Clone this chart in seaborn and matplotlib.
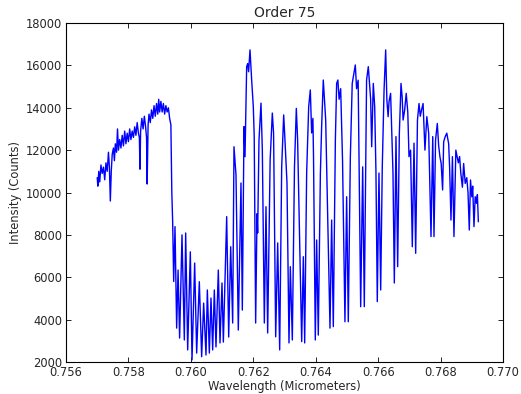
"""
Order 75 spectrum plot (O2 A-band region).
Vertices read off the reference figure.
"""

import matplotlib
matplotlib.use('Agg')
import matplotlib.pyplot as plt
import numpy as np
import pandas as pd
import seaborn as sns

# ── Data: continuum before the band head ─────────────────────────────────────
wl_continuum = [
    0.75700, 0.75702, 0.75705, 0.75708, 0.75712, 0.75716, 0.75720, 0.75724,
    0.75728, 0.75732, 0.75736, 0.75739, 0.75742, 0.75745, 0.75748, 0.75752,
    0.75755, 0.75758, 0.75762, 0.75765, 0.75768, 0.75772, 0.75776, 0.75780,
    0.75784, 0.75788, 0.75792, 0.75796, 0.75800, 0.75804, 0.75808, 0.75812,
    0.75816, 0.75820, 0.75824, 0.75828, 0.75832, 0.75835, 0.75837, 0.75839,
    0.75843, 0.75847, 0.75851, 0.75855, 0.75858, 0.75860, 0.75863, 0.75866,
    0.75870, 0.75874, 0.75878, 0.75882, 0.75886, 0.75890, 0.75894, 0.75897,
    0.75900, 0.75904, 0.75908, 0.75912, 0.75916, 0.75920, 0.75924, 0.75928,
    0.75932, 0.75936, 0.75939,
]
counts_continuum = [
    10700, 10300, 11000, 10500, 11300, 10900, 11200, 10600,
    11400, 11000, 11900, 11200, 9600, 11000, 11800, 12100,
    11500, 12300, 11900, 13000, 12000, 12500, 12100, 12700,
    12200, 12900, 12300, 12800, 12400, 13000, 12500, 12900,
    12600, 13100, 12700, 13300, 12800, 12600, 11100, 12900,
    13500, 13000, 13600, 13100, 12600, 10400, 13200, 13700,
    13300, 13900, 13500, 14100, 13600, 14200, 13700, 14400,
    13800, 14300, 13800, 14200, 13700, 14100, 13800, 14000,
    13500, 13200, 10000,
]

# ── Data: R branch (deep, dense lines) ───────────────────────────────────────
wl_rbranch = [
    0.759417, 0.759450, 0.759492, 0.759545, 0.759590, 0.759640, 0.759716,
    0.759791, 0.759834, 0.759898, 0.759983, 0.760037, 0.760122, 0.760186,
    0.760271, 0.760346, 0.760410, 0.760485, 0.760528, 0.760592, 0.760645,
    0.760699, 0.760752, 0.760805, 0.760880, 0.760934, 0.760998, 0.761041,
    0.761148, 0.761212, 0.761276, 0.761340, 0.761382, 0.761446,
]
counts_rbranch = [
    8620, 5800, 8390, 3600, 6340, 3130, 8000,
    3040, 8090, 2570, 7200, 2100, 6670, 2420,
    5790, 2250, 4780, 2330, 5400, 2420, 5020,
    2570, 5400, 2710, 6340, 2900, 5730, 2940,
    8860, 3180, 7440, 3840, 12160, 10830,
]

# ── Data: P branch (line pairs) and red continuum ────────────────────────────
wl_pbranch = [
    0.761520, 0.761606, 0.761649, 0.761703, 0.761735, 0.761788, 0.761820,
    0.761850, 0.761895, 0.761948, 0.762001, 0.762030, 0.762076, 0.762120,
    0.762140, 0.762183, 0.762247, 0.762290, 0.762354, 0.762407, 0.762461,
    0.762540, 0.762610, 0.762650, 0.762718, 0.762782, 0.762846, 0.762910,
    0.762974, 0.763010, 0.763080, 0.763144, 0.763187, 0.763251, 0.763320,
    0.763379, 0.763420, 0.763551, 0.763604, 0.763647, 0.763710, 0.763775,
    0.763827, 0.763870, 0.763910, 0.763930, 0.763987, 0.764030, 0.764083,
    0.764150, 0.764190, 0.764243, 0.764280, 0.764320, 0.764458, 0.764511,
    0.764564, 0.764630, 0.764671, 0.764710, 0.764750, 0.764800, 0.764860,
    0.764937, 0.764991, 0.765044, 0.765110, 0.765170, 0.765220, 0.765269,
    0.765310, 0.765360, 0.765441, 0.765505, 0.765557, 0.765630, 0.765685,
    0.765720, 0.765760, 0.765794, 0.765845, 0.765890, 0.765930, 0.765973,
    0.766027, 0.766082, 0.766133, 0.766190, 0.766242, 0.766280, 0.766320,
    0.766350, 0.766400, 0.766476, 0.766519, 0.766572, 0.766626, 0.766680,
    0.766733, 0.766770, 0.766800, 0.766850, 0.766900, 0.766950, 0.766989,
    0.767040, 0.767095, 0.767150, 0.767203, 0.767260, 0.767310, 0.767350,
    0.767390, 0.767440, 0.767500, 0.767560, 0.767620, 0.767694, 0.767750,
    0.767790, 0.767840, 0.767896, 0.767940, 0.767980, 0.768020, 0.768066,
    0.768100, 0.768150, 0.768200, 0.768260, 0.768290, 0.768334, 0.768380,
    0.768430, 0.768490, 0.768530, 0.768570, 0.768610, 0.768650, 0.768700,
    0.768740, 0.768790, 0.768840, 0.768880, 0.768921, 0.768960, 0.769000,
    0.769030, 0.769071, 0.769110, 0.769150, 0.769180, 0.769211,
]
counts_pbranch = [
    3510, 10450, 4450, 13110, 11690, 15940, 16080,
    15700, 16730, 15310, 14050, 12640, 3840, 9000,
    8090, 12480, 14220, 12000, 3840, 9330, 3370,
    11530, 13750, 12800, 3190, 7620, 2570, 11210,
    13660, 12640, 10450, 2900, 6500, 3040, 11210,
    13970, 12500, 2960, 6970, 2900, 10920, 14050,
    14840, 12810, 13500, 11690, 3040, 7760, 3270,
    10920, 13110, 15310, 14400, 13420, 3600, 8700,
    3670, 12480, 15150, 15310, 14400, 14900, 11500,
    3900, 9800, 3900, 11690, 15150, 15600, 16020,
    14900, 15300, 4610, 11210, 4610, 15310, 15940,
    15200, 14410, 12160, 15150, 14050, 11000, 4850,
    10920, 5400, 11210, 14840, 16730, 14370, 13580,
    14300, 14680, 10920, 5730, 12640, 6500, 12800,
    15150, 14500, 13420, 13890, 14680, 13800, 11690,
    12000, 7440, 12330, 7130, 13420, 14200, 13600,
    13890, 14200, 12000, 13580, 12800, 7920, 12640,
    7920, 12480, 13260, 12200, 11690, 11370, 10120,
    12400, 12640, 12800, 12300, 11210, 8700, 11690,
    7920, 12000, 11690, 11400, 11700, 10900, 10250,
    11370, 10430, 10700, 10000, 8230, 10590, 9800,
    10300, 8390, 9800, 9490, 9900, 8620,
]

# ── Axis setup ───────────────────────────────────────────────────────────────
X_TICKS = [0.756, 0.758, 0.760, 0.762, 0.764, 0.766, 0.768, 0.770]
Y_TICKS = [2000, 4000, 6000, 8000, 10000, 12000, 14000, 16000, 18000]

spec = pd.DataFrame({
    'wavelength': wl_continuum + wl_rbranch + wl_pbranch,
    'counts': counts_continuum + counts_rbranch + counts_pbranch,
})

sns.set_style('ticks')
plt.rcParams['font.family'] = ['DejaVu Sans']
plt.rcParams['xtick.direction'] = 'in'
plt.rcParams['ytick.direction'] = 'in'
plt.rcParams['xtick.top'] = True
plt.rcParams['ytick.right'] = True

fig = plt.figure(figsize=(5.21, 3.94), dpi=100)
ax = fig.add_axes([0.1267, 0.0812, 0.8387, 0.8604])

sns.lineplot(data=spec, x='wavelength', y='counts', ax=ax,
             color='#0000ff', lw=1.0, sort=False, estimator=None)

ax.set_xlim(0.756, 0.770)
ax.set_ylim(2000, 18000)
ax.set_xticks(X_TICKS)
ax.set_xticklabels([f'{t:.3f}' for t in X_TICKS])
ax.set_yticks(Y_TICKS)
ax.set_yticklabels([str(t) for t in Y_TICKS])
ax.tick_params(labelsize=8.3, length=3.3, width=0.6, pad=2.8, color='black')

for side in ax.spines.values():
    side.set_color('black')
    side.set_linewidth(0.8)

ax.set_title('Order 75', fontsize=10, pad=4)
ax.set_xlabel('Wavelength (Micrometers)', fontsize=8.3, labelpad=1)
ax.set_ylabel('Intensity (Counts)', fontsize=8.3, labelpad=3)

fig.savefig('out.png', dpi=100, facecolor='white')
